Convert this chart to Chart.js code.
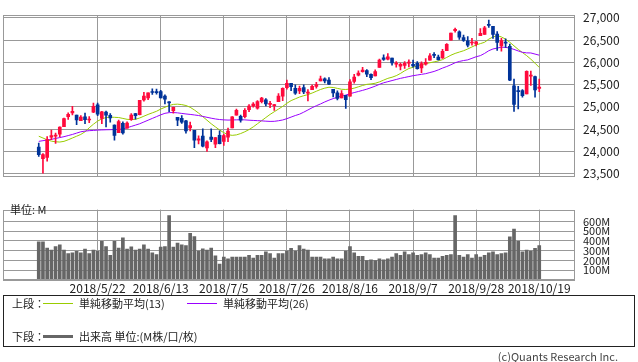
<!DOCTYPE html>
<html>
<head>
<meta charset="utf-8">
<script src="https://cdn.jsdelivr.net/npm/chart.js@4.4.0/dist/chart.umd.min.js"></script>
<style>
body{margin:0;background:#fff;width:638px;height:362px;overflow:hidden;position:relative;font-family:"Noto Sans CJK JP","Noto Sans",sans-serif;color:#222;}
canvas{position:absolute;left:0;}
.t{position:absolute;font-size:11px;line-height:14px;white-space:nowrap;}
.ln{position:absolute;}
#legend{position:absolute;left:3px;top:295px;width:630px;height:50px;border:1px solid #222;}
</style>
</head>
<body>
<canvas id="price_chart" width="638" height="192" style="top:0;width:638px;height:192px"></canvas>
<canvas id="vol_chart" width="638" height="101" style="top:195px;width:638px;height:101px"></canvas>
<div class="t" style="left:10px;top:202px">単位: M</div>
<div id="legend">
  <div class="t" style="left:8px;top:0px">上段：</div>
  <div class="ln" style="left:39px;top:7px;width:30px;height:1px;background:#99cc00"></div>
  <div class="t" style="left:75px;top:0px">単純移動平均(13)</div>
  <div class="ln" style="left:183px;top:7px;width:30px;height:1px;background:#9900ff"></div>
  <div class="t" style="left:219px;top:0px">単純移動平均(26)</div>
  <div class="t" style="left:8px;top:33px">下段：</div>
  <div class="ln" style="left:39px;top:39px;width:30px;height:3px;background:#666"></div>
  <div class="t" style="left:75px;top:33px">出来高 単位:(M株/口/枚)</div>
</div>
<div class="t" style="right:20px;top:349px;color:#444">(c)Quants Research Inc.</div>
<script>
// daily candles, 2018/5/2 - 2018/10/19
var dates = ['2018/5/2','2018/5/3','2018/5/4','2018/5/7','2018/5/8','2018/5/9','2018/5/10','2018/5/11','2018/5/14','2018/5/15','2018/5/16','2018/5/17','2018/5/18','2018/5/21','2018/5/22','2018/5/23','2018/5/24','2018/5/25','2018/5/29','2018/5/30','2018/5/31',
  '2018/6/1','2018/6/4','2018/6/5','2018/6/6','2018/6/7','2018/6/8','2018/6/11','2018/6/12','2018/6/13','2018/6/14','2018/6/15','2018/6/18','2018/6/19','2018/6/20','2018/6/21','2018/6/22','2018/6/25','2018/6/26','2018/6/27','2018/6/28','2018/6/29',
  '2018/7/2','2018/7/3','2018/7/5','2018/7/6','2018/7/9','2018/7/10','2018/7/11','2018/7/12','2018/7/13','2018/7/16','2018/7/17','2018/7/18','2018/7/19','2018/7/20','2018/7/23','2018/7/24','2018/7/25','2018/7/26','2018/7/27','2018/7/30','2018/7/31',
  '2018/8/1','2018/8/2','2018/8/3','2018/8/6','2018/8/7','2018/8/8','2018/8/9','2018/8/10','2018/8/13','2018/8/14','2018/8/15','2018/8/16','2018/8/17','2018/8/20','2018/8/21','2018/8/22','2018/8/23','2018/8/24','2018/8/27','2018/8/28','2018/8/29','2018/8/30','2018/8/31',
  '2018/9/4','2018/9/5','2018/9/6','2018/9/7','2018/9/10','2018/9/11','2018/9/12','2018/9/13','2018/9/14','2018/9/17','2018/9/18','2018/9/19','2018/9/20','2018/9/21','2018/9/24','2018/9/25','2018/9/26','2018/9/27','2018/9/28',
  '2018/10/1','2018/10/2','2018/10/3','2018/10/4','2018/10/5','2018/10/8','2018/10/9','2018/10/10','2018/10/11','2018/10/12','2018/10/15','2018/10/16','2018/10/17','2018/10/18','2018/10/19'];

var open = [24097,23836,23865,24317,24341,24386,24552,24778,24863,24814,24689,24773,24705,24883,25047,24741,24881,24807,24591,24418,24630,
  24520,24710,24849,24823,25156,25198,25335,25333,25340,25243,25098,24913,24763,24740,24685,24526,24472,24254,24341,24080,24321,
  24161,24361,24221,24320,24527,24813,24789,24778,24939,25018,24972,25118,25158,25055,25029,25114,25237,25432,25527,25418,25355,
  25432,25308,25387,25461,25583,25627,25601,25393,25317,25203,25260,25237,25572,25710,25791,25813,25731,25696,25886,26102,26073,26093,25958,
  25916,25931,25982,25955,25977,25874,25961,26050,26172,26119,26096,26264,26497,26712,26686,26553,26485,26433,26413,
  26598,26627,26833,26808,26635,26370,26456,26358,25474,25366,25363,25291,25690,25680,25411];
var high = [24185,23949,24333,24479,24412,24553,24747,24868,25012,24814,24801,24858,24782,25086,25086,24897,24905,24851,24597,24701,24664,
  24665,24847,24853,25146,25326,25317,25402,25400,25370,25269,25120,24996,24763,24803,24697,24660,24472,24348,24509,24234,24509,
  24307,24461,24381,24525,24781,24950,24815,24960,25052,25095,25139,25213,25188,25123,25057,25297,25426,25602,25527,25495,25467,
  25497,25389,25488,25551,25692,25652,25659,25393,25361,25363,25260,25610,25730,25806,25888,25834,25742,25829,26075,26167,26195,26093,26015,
  25980,26014,26054,26052,26017,26010,26083,26195,26218,26160,26291,26419,26657,26770,26705,26614,26579,26536,26474,
  26758,26809,26951,26809,26689,26537,26525,26409,25626,25460,25389,25809,25802,25690,25625];
var low = [23887,23510,23778,24263,24181,24326,24552,24719,24817,24600,24689,24621,24647,24871,24800,24622,24547,24655,24253,24418,24386,
  24520,24694,24725,24817,25129,25159,25281,25287,25198,25064,24890,24859,24580,24630,24408,24462,24084,24169,24101,23997,24217,
  24081,24168,24131,24220,24527,24811,24656,24750,24892,24993,24947,25088,25018,24980,24918,25114,25141,25396,25366,25278,25298,
  25297,25131,25387,25419,25583,25537,25500,25222,25154,25203,24965,25237,25533,25694,25779,25678,25613,25696,25886,26040,26054,25934,25891,
  25831,25865,25896,25890,25844,25768,25934,26050,26104,26047,26089,26260,26497,26678,26512,26468,26348,26385,26367,
  26598,26627,26782,26539,26266,26250,26333,25585,24897,24952,25215,25291,25482,25217,25342];
var close = [23924,23930,24263,24357,24360,24543,24739,24831,24899,24706,24769,24714,24715,25013,24834,24887,24811,24753,24361,24667,24416,
  24635,24813,24799,25146,25241,25317,25322,25320,25201,25175,25090,24987,24700,24657,24461,24580,24252,24283,24117,24216,24271,
  24307,24174,24357,24456,24776,24920,24700,24924,25019,25064,25120,25199,25065,25058,25044,25241,25415,25527,25451,25307,25415,
  25333,25327,25463,25502,25629,25584,25509,25313,25187,25300,25162,25559,25669,25759,25823,25733,25656,25790,26050,26064,26124,25987,25965,
  25953,25975,25996,25917,25857,25971,25999,26145,26155,26062,26247,26405,26657,26743,26562,26492,26385,26440,26458,
  26651,26773,26828,26627,26447,26487,26430,25599,25053,25340,25250,25798,25707,25380,25444];

var ma13 = [24340,24300,24260,24230,24215,24210,24225,24260,24300,24340,24380,24440,24530,24610,24680,24730,24760,24770,24765,24760,
  24740,24720,24715,24720,24750,24790,24830,24865,24900,24950,24990,25030,25055,25060,25050,25030,24990,24930,24860,24780,
  24700,24620,24550,24480,24420,24375,24360,24370,24400,24440,24490,24550,24620,24690,24760,24830,24890,24950,25010,25080,
  25140,25180,25220,25250,25275,25310,25350,25390,25420,25440,25435,25415,25395,25390,25400,25420,25450,25480,25505,25515,
  25530,25560,25600,25640,25665,25700,25750,25810,25860,25890,25920,25950,25970,25990,26010,26030,26060,26110,26160,26200,
  26230,26260,26300,26345,26390,26420,26450,26520,26570,26600,26570,26520,26450,26370,26290,26220,26150,26070,25980,25885];
var ma26 = [24225,24240,24255,24270,24290,24310,24330,24355,24380,24410,24440,24455,24465,24470,24478,24482,24485,24487,24490,24495,
  24505,24530,24560,24590,24620,24660,24700,24740,24780,24820,24855,24870,24872,24865,24852,24840,24830,24818,24805,24785,
  24765,24745,24728,24715,24707,24703,24705,24708,24710,24707,24700,24695,24690,24685,24678,24673,24675,24688,24705,24735,
  24770,24805,24835,24880,24930,24980,25025,25065,25110,25150,25185,25215,25240,25265,25295,25320,25345,25370,25397,25430,
  25465,25505,25540,25565,25590,25615,25640,25660,25680,25700,25715,25730,25745,25770,25795,25830,25870,25905,25945,25990,
  26020,26040,26055,26090,26125,26150,26200,26260,26300,26320,26340,26335,26320,26290,26255,26225,26212,26210,26185,26160];

// volume, millions
var volume = [390,390,327,306,342,360,306,270,279,294,279,315,270,306,294,396,342,252,396,327,432,
  315,339,306,315,360,315,279,261,336,342,660,336,378,360,351,477,444,297,318,306,327,
  246,162,234,216,234,234,234,234,252,225,252,252,288,270,225,270,270,297,324,297,351,
  315,306,234,234,234,216,216,234,216,216,297,342,279,243,243,198,207,198,216,207,216,234,270,
  252,288,261,279,252,261,279,261,225,225,243,252,261,660,252,234,261,225,261,
  234,252,279,288,261,270,279,441,522,396,288,306,297,324,351];

var tickDates = ['2018/5/22','2018/6/13','2018/7/5','2018/7/26','2018/8/16','2018/9/7','2018/9/28','2018/10/19'];
var priceTicks = [23500,24000,24500,25000,25500,26000,26500,27000];
var volTicks = [0,100,200,300,400,500,600];

var upColor = '#ff0a3c';
var downColor = '#003399';
var gridColor = '#999';
var pad = 8; // empty slots each side

Chart.defaults.font.family = '"Noto Sans CJK JP","Noto Sans",sans-serif';
Chart.defaults.font.size = 12;
Chart.defaults.color = '#222';

function padded(arr){
    var empty = [];
    for (var i = 0; i < pad; i++) empty.push(null);
    return empty.concat(arr, empty);
}

var labels = padded(dates).map(function(d){ return d || ''; });
var tickIdx = tickDates.map(function(d){ return dates.indexOf(d) + pad; });

function setDateTicks(scale){
    scale.ticks = tickIdx.map(function(i){ return {value: i}; });
}

var candleColors = padded(dates.map(function(d, i){ return close[i] >= open[i] ? upColor : downColor; }));

var framePlugin = {
    id: 'frame',
    afterDraw: function(chart){
        var a = chart.chartArea, c = chart.ctx;
        c.save();
        c.strokeStyle = gridColor;
        c.lineWidth = 1;
        c.strokeRect(Math.round(a.left) + 0.5, Math.round(a.top) + 0.5, Math.round(a.right - a.left) - 1, Math.round(a.bottom - a.top) - 1);
        c.restore();
    }
};

var common = {
    responsive: false,
    animation: false,
    devicePixelRatio: 1,
    events: [],
    plugins: { legend: { display: false }, tooltip: { enabled: false } }
};

new Chart(document.getElementById('price_chart').getContext('2d'), {
    type: 'bar',
    data: {
        labels: labels,
        datasets: [{
            type: 'line',
            data: padded(ma13),
            borderColor: '#99cc00',
            borderWidth: 1,
            pointRadius: 0,
            fill: false,
            order: 3
        }, {
            type: 'line',
            data: padded(ma26),
            borderColor: '#9900ff',
            borderWidth: 1,
            pointRadius: 0,
            fill: false,
            order: 2
        }, {
            // wicks
            data: padded(dates.map(function(d, i){ return [low[i], high[i]]; })),
            backgroundColor: candleColors,
            barThickness: 1,
            grouped: false,
            order: 1
        }, {
            // bodies
            data: padded(dates.map(function(d, i){ return [open[i], close[i]]; })),
            backgroundColor: candleColors,
            barThickness: 3,
            minBarLength: 1,
            grouped: false,
            order: 0
        }]
    },
    options: Object.assign({}, common, {
        layout: { padding: { left: 3, top: 1, right: 0, bottom: 2 } },
        scales: {
            x: {
                offset: true,
                grid: { offset: false, color: gridColor, drawTicks: false },
                border: { display: false },
                ticks: { display: false },
                afterBuildTicks: setDateTicks,
                afterFit: function(s){ s.height = 0; }
            },
            y: {
                position: 'right',
                min: 23429,
                max: 27058,
                afterBuildTicks: function(s){ s.ticks = priceTicks.map(function(v){ return {value: v}; }); },
                ticks: { padding: 8, autoSkip: false, callback: function(v){ return v.toLocaleString('en-US'); } },
                grid: { color: gridColor, drawTicks: false },
                border: { display: false },
                afterFit: function(s){ s.width = 63; }
            }
        }
    }),
    plugins: [framePlugin]
});

new Chart(document.getElementById('vol_chart').getContext('2d'), {
    type: 'bar',
    data: {
        labels: labels,
        datasets: [{
            data: padded(volume),
            backgroundColor: '#666',
            barThickness: 3
        }]
    },
    options: Object.assign({}, common, {
        layout: { padding: { left: 3, top: 6, right: 0, bottom: 0 } },
        scales: {
            x: {
                offset: true,
                grid: { offset: false, color: gridColor, drawTicks: false },
                border: { display: false },
                ticks: { padding: 1, maxRotation: 0, autoSkip: false },
                afterBuildTicks: setDateTicks,
                afterFit: function(s){ s.height = 16; }
            },
            y: {
                position: 'right',
                min: 0,
                max: 720,
                afterBuildTicks: function(s){ s.ticks = volTicks.map(function(v){ return {value: v}; }); },
                ticks: { padding: 8, autoSkip: false, font: { size: 11 }, callback: function(v){ return v === 0 ? '' : v + 'M'; } },
                grid: { color: gridColor, drawTicks: false },
                border: { display: false },
                afterFit: function(s){ s.width = 63; }
            }
        }
    }),
    plugins: [framePlugin]
});
</script>
</body>
</html>
